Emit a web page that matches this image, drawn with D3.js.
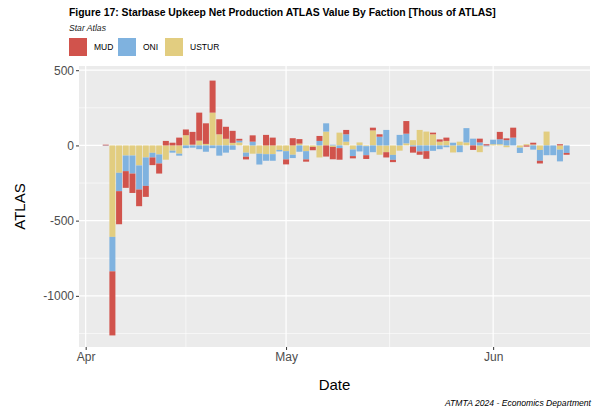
<!DOCTYPE html>
<html>
<head>
<meta charset="utf-8">
<script src="https://cdn.jsdelivr.net/npm/d3@7"></script>
<style>
  body { margin: 0; background: #fff; }
  text { font-family: "Liberation Sans", Arial, sans-serif; }
</style>
</head>
<body>
<script>
// daily values, thousands of ATLAS
var dates = [
  "2024-04-04","2024-04-05","2024-04-06","2024-04-07","2024-04-08","2024-04-09","2024-04-10",
  "2024-04-11","2024-04-12","2024-04-13","2024-04-14","2024-04-15","2024-04-16","2024-04-17",
  "2024-04-18","2024-04-19","2024-04-20","2024-04-21","2024-04-22","2024-04-23","2024-04-24",
  "2024-04-25","2024-04-26","2024-04-27","2024-04-28","2024-04-29","2024-04-30","2024-05-01",
  "2024-05-02","2024-05-03","2024-05-04","2024-05-05","2024-05-06","2024-05-07","2024-05-08",
  "2024-05-09","2024-05-10","2024-05-11","2024-05-12","2024-05-13","2024-05-14","2024-05-15",
  "2024-05-16","2024-05-17","2024-05-18","2024-05-19","2024-05-20","2024-05-21","2024-05-22",
  "2024-05-23","2024-05-24","2024-05-25","2024-05-26","2024-05-27","2024-05-28","2024-05-29",
  "2024-05-30","2024-05-31","2024-06-01","2024-06-02","2024-06-03","2024-06-04","2024-06-05",
  "2024-06-06","2024-06-07","2024-06-08","2024-06-09","2024-06-10","2024-06-11","2024-06-12"
];
var mud = [
  5, -426, -220, -111, -129, -111, -73, -51, -67, 30, 18, 52, 38, 85,
  186, 137, 213, 100, 80, 80, 12, -18, 42, 0, 70, 52, 0, -33,
  48, 30, -15, -22, 33, -74, -82, -77, 29, -15, 0, -25, 18, 16,
  -35, -15, 0, 84, -40, -22, -51, 11, 15, 22, 0, 0, 0, -30,
  25, 8, 0, 49, 12, 66, 0, -8, 12, -18, 0, 0, 8, -12
];
var oni = [
  -3, -229, -122, -104, -120, -160, -189, -31, -60, 0, -13, -13, -18, -15,
  -25, -42, -18, -68, -48, -29, 12, -27, 25, -72, -44, -44, -10, -55,
  -22, -42, -55, 0, 30, 55, 5, -18, 49, -44, -40, -60, -45, 58,
  103, -33, 70, 64, -8, -40, -38, -36, -25, -12, 18, -45, 95, 45,
  20, -6, 30, 33, 35, 52, -35, 0, -28, -72, -65, -65, -78, -50
];
var ustur = [
  0, -608, -182, -67, -67, -133, -80, -49, -60, -95, -35, -55, 68, 5,
  32, 10, 218, 74, 44, 17, 20, -48, -55, -55, -58, -58, -30, -38,
  -62, 12, -38, -10, -80, 92, -10, 85, 25, -27, 20, -5, 100, -62,
  -45, -63, -35, 14, 35, 103, 92, 74, 25, 30, -47, 25, 20, 0,
  -45, 0, 8, 8, -12, 0, -15, 8, 6, -30, 92, 0, -28, 0
];
var factions = ["MUD", "ONI", "USTUR"];
var colours = ["#d1534c", "#7fb2df", "#e2cd80"];
var yTicks = [500, 0, -500, -1000];
var yMinor = [250, -250, -750, -1250];
var xTicks = ["2024-04-01", "2024-05-01", "2024-06-01"];
var xTickLabels = ["Apr", "May", "Jun"];
var xMinor = ["2024-04-16T00:00", "2024-05-16T12:00"];

var W = 593, H = 411;
var panel = {left: 79, right: 590, top: 66, bottom: 347};

var parse = d3.utcParse("%Y-%m-%d");
var parseT = d3.utcParse("%Y-%m-%dT%H:%M");

var rows = dates.map(function(d, i) {
  return {date: parse(d), MUD: mud[i], ONI: oni[i], USTUR: ustur[i]};
});

// ggplot puts the last level next to zero
var stack = d3.stack()
  .keys(["USTUR", "ONI", "MUD"])
  .offset(d3.stackOffsetDiverging);
var layers = stack(rows);

var colour = d3.scaleOrdinal().domain(factions).range(colours);

var x = d3.scaleUtc()
  .domain([parseT("2024-03-31T00:00"), parseT("2024-06-15T12:00")])
  .range([panel.left, panel.right]);
var y = d3.scaleLinear()
  .domain([-1340, 528])
  .range([panel.bottom, panel.top]);

var dayW = x(parse("2024-04-02")) - x(parse("2024-04-01"));
var barW = dayW * 0.9;

var svg = d3.select("body").append("svg")
  .attr("width", W).attr("height", H);

// panel + grid
svg.append("rect")
  .attr("x", panel.left).attr("y", panel.top)
  .attr("width", panel.right - panel.left)
  .attr("height", panel.bottom - panel.top)
  .attr("fill", "#ebebeb");

var grid = svg.append("g");
grid.selectAll(".ymin").data(yMinor).enter().append("line")
  .attr("x1", panel.left).attr("x2", panel.right)
  .attr("y1", function(d) { return y(d); }).attr("y2", function(d) { return y(d); })
  .attr("stroke", "#fff").attr("stroke-width", 0.6);
grid.selectAll(".xmin").data(xMinor).enter().append("line")
  .attr("y1", panel.top).attr("y2", panel.bottom)
  .attr("x1", function(d) { return x(parseT(d)); })
  .attr("x2", function(d) { return x(parseT(d)); })
  .attr("stroke", "#fff").attr("stroke-width", 0.6);
grid.selectAll(".ymaj").data(yTicks).enter().append("line")
  .attr("x1", panel.left).attr("x2", panel.right)
  .attr("y1", function(d) { return y(d); }).attr("y2", function(d) { return y(d); })
  .attr("stroke", "#fff").attr("stroke-width", 1.2);
grid.selectAll(".xmaj").data(xTicks).enter().append("line")
  .attr("y1", panel.top).attr("y2", panel.bottom)
  .attr("x1", function(d) { return x(parse(d)); })
  .attr("x2", function(d) { return x(parse(d)); })
  .attr("stroke", "#fff").attr("stroke-width", 1.2);

// bars
svg.append("g").selectAll("g").data(layers).enter().append("g")
    .attr("fill", function(l) { return colour(l.key); })
  .selectAll("rect").data(function(l) { return l; }).enter().append("rect")
    .attr("x", function(d) { return x(d.data.date) - barW / 2; })
    .attr("width", barW)
    .attr("y", function(d) { return y(Math.max(d[0], d[1])); })
    .attr("height", function(d) { return Math.abs(y(d[0]) - y(d[1])); });

// axes
var yAxis = d3.axisLeft(y).tickValues(yTicks)
  .tickFormat(function(d) { return String(d); })
  .tickSize(3).tickPadding(2);
var gy = svg.append("g").attr("transform", "translate(" + panel.left + ",0)").call(yAxis);
var xAxis = d3.axisBottom(x).tickValues(xTicks.map(parse))
  .tickFormat(function(d, i) { return xTickLabels[i]; })
  .tickSize(3).tickPadding(2);
var gx = svg.append("g").attr("transform", "translate(0," + panel.bottom + ")").call(xAxis);

[gx, gy].forEach(function(g) {
  g.select(".domain").remove();
  g.selectAll(".tick line").attr("stroke", "#333");
  g.selectAll(".tick text").attr("fill", "#4d4d4d")
    .style("font-size", "12px").style("font-family", "'Liberation Sans', Arial, sans-serif");
});

// titles
svg.append("text")
  .attr("x", 69).attr("y", 16)
  .style("font-size", "10.4px").style("font-weight", "bold")
  .text("Figure 17: Starbase Upkeep Net Production ATLAS Value By Faction [Thous of ATLAS]");
svg.append("text")
  .attr("x", 69).attr("y", 31)
  .style("font-size", "8.6px").style("font-style", "italic").attr("fill", "#222")
  .text("Star Atlas");

svg.append("text")
  .attr("transform", "translate(25," + ((panel.top + panel.bottom) / 2) + ") rotate(-90)")
  .attr("text-anchor", "middle")
  .style("font-size", "15px")
  .text("ATLAS");
svg.append("text")
  .attr("x", (panel.left + panel.right) / 2).attr("y", 390)
  .attr("text-anchor", "middle")
  .style("font-size", "15px")
  .text("Date");
svg.append("text")
  .attr("x", 591).attr("y", 406)
  .attr("text-anchor", "end")
  .style("font-size", "8.6px").style("font-style", "italic")
  .text("ATMTA 2024 - Economics Department");

// legend
var legX = [69, 118, 165];
var leg = svg.append("g").selectAll("g").data(factions).enter().append("g")
  .attr("transform", function(d, i) { return "translate(" + legX[i] + ",38)"; });
leg.append("rect")
  .attr("width", 18).attr("height", 18)
  .attr("fill", function(d) { return colour(d); });
leg.append("text")
  .attr("x", 25).attr("y", 9).attr("dy", "0.35em")
  .style("font-size", "8.5px")
  .text(function(d) { return d; });
</script>
</body>
</html>
